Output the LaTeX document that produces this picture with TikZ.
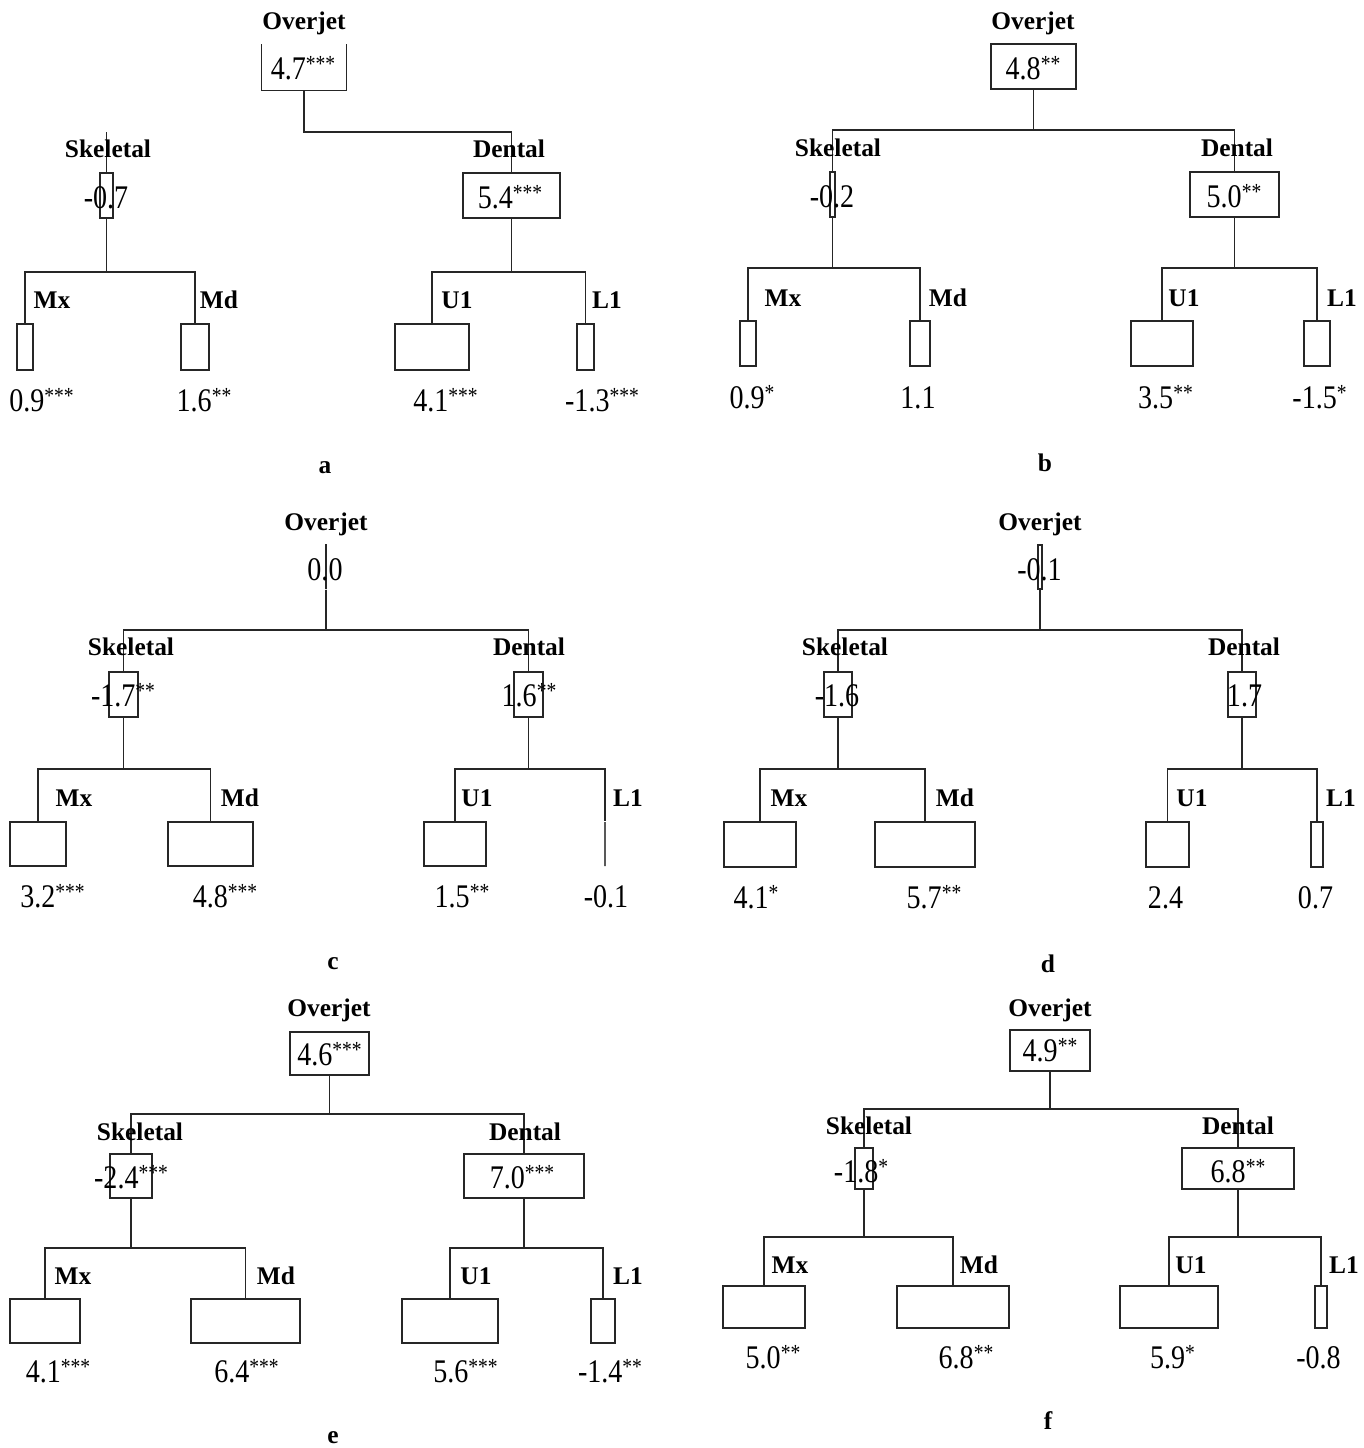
\documentclass[tikz,border=0pt]{standalone}
\usepackage{fontspec}
\setmainfont{Liberation Serif}
\newfontfamily\valfont[FakeStretch=0.85]{Liberation Serif}
\tikzset{
 ln/.style={draw=black!85, line width=0.55pt},
 bxs/.style={draw=black!85, line width=0.55pt, rectangle, inner sep=0pt, minimum width=0pt, minimum height=0pt},
 val/.style={inner sep=0pt, anchor=base, font=\valfont\fontsize{16.5}{19}\selectfont},
 lab/.style={inner sep=0pt, anchor=base, font=\bfseries\fontsize{12.7}{15}\selectfont},
}
\newcommand\sig[1]{\raisebox{3.6pt}{\fontsize{11.5}{12}\selectfont #1}}
\newcommand\bx[6][]{\node[bxs,#1,minimum width={(#5-#3)*0.5pt},minimum height={(#6-#4)*0.5pt}] (#2) at ({(#3+#5)/2},{(#4+#6)/2}) {};}
\newcommand\fork[4]{\coordinate (#1bar) at (0,#4);
 \draw[ln] (#1.south) -- (#1.south |- #1bar);
 \draw[ln] (#2.north) |- (#3.north |- #1bar) -- (#3.north);}
\begin{document}
\begin{tikzpicture}[x=0.5pt,y=-0.5pt]
\fill[white] (0,0) rectangle (1364,1448);
\useasboundingbox (0,0) rectangle (1364,1448);
% ---------------- panel a
\bx[draw=none]{aO}{262}{45}{346}{90}
\draw[ln] (aO.north west) -- (aO.south west) -- (aO.south east) -- (aO.north east);
\bx{aS}{100}{173}{113}{218}
\bx{aD}{463}{173}{560}{218}
\bx{aMx}{17}{324}{33}{370}
\bx{aMd}{181}{324}{209}{370}
\bx{aU}{395}{324}{469}{370}
\bx{aL}{577}{324}{594}{370}
\coordinate (abar) at (0,132);
\draw[ln] (aO.south) |- (aD.north |- abar) -- (aD.north);
\draw[ln] (aS.north |- abar) -- (aS.north);
\fork{aS}{aMx}{aMd}{272}
\fork{aD}{aU}{aL}{272}
\node[lab] (aOl) at (304,29) {Overjet};
\node[lab] (aSl) at (108,157) {Skeletal};
\node[lab] (aDl) at (509,157) {Dental};
\node[lab] (aMxl) at (52,308) {Mx};
\node[lab] (aMdl) at (219,308) {Md};
\node[lab] (aUl) at (457,308) {U1};
\node[lab] (aLl) at (607,308) {L1};
\node[val] (aOt) at (303,79) {4.7\sig{***}};
\node[val] (aSt) at (106,208) {-0.7};
\node[val] (aDt) at (510,208) {5.4\sig{***}};
\node[val] (aMxt) at (41.5,411) {0.9\sig{***}};
\node[val] (aMdt) at (204,411) {1.6\sig{**}};
\node[val] (aUt) at (445.5,411) {4.1\sig{***}};
\node[val] (aLt) at (602,411) {-1.3\sig{***}};
\node[lab] (acap) at (325,473) {a};
% ---------------- panel b
\bx{bO}{991}{44}{1076}{89}
\bx{bS}{830}{172}{835}{217}
\bx{bD}{1190}{172}{1279}{217}
\bx{bMx}{740}{321}{756}{366}
\bx{bMd}{910}{321}{930}{366}
\bx{bU}{1131}{321}{1193}{366}
\bx{bL}{1304}{321}{1330}{366}
\fork{bO}{bS}{bD}{130}
\fork{bS}{bMx}{bMd}{268}
\fork{bD}{bU}{bL}{268}
\node[lab] (bOl) at (1033,29) {Overjet};
\node[lab] (bSl) at (838,156) {Skeletal};
\node[lab] (bDl) at (1237,156) {Dental};
\node[lab] (bMxl) at (783,306) {Mx};
\node[lab] (bMdl) at (948,306) {Md};
\node[lab] (bUl) at (1184,306) {U1};
\node[lab] (bLl) at (1342,306) {L1};
\node[val] (bOt) at (1033,79) {4.8\sig{**}};
\node[val] (bSt) at (832,207) {-0.2};
\node[val] (bDt) at (1234,207) {5.0\sig{**}};
\node[val] (bMxt) at (752,408) {0.9\sig{*}};
\node[val] (bMdt) at (918,408) {1.1};
\node[val] (bUt) at (1165.5,408) {3.5\sig{**}};
\node[val] (bLt) at (1319.5,408) {-1.5\sig{*}};
\node[lab] (bcap) at (1045,471) {b};
% ---------------- panel c
\bx{cO}{326}{544}{326}{589}
\bx{cS}{109}{672}{138}{717}
\bx{cD}{514}{672}{543}{717}
\bx{cMx}{10}{822}{66}{866}
\bx{cMd}{168}{822}{253}{866}
\bx{cU}{424}{822}{486}{866}
\bx[line width=1.2pt,draw=black!65]{cL}{605}{822}{605}{866}
\fork{cO}{cS}{cD}{630}
\fork{cS}{cMx}{cMd}{769}
\fork{cD}{cU}{cL}{769}
\node[lab] (cOl) at (326,530) {Overjet};
\node[lab] (cSl) at (131,655) {Skeletal};
\node[lab] (cDl) at (529,655) {Dental};
\node[lab] (cMxl) at (74,806) {Mx};
\node[lab] (cMdl) at (240,806) {Md};
\node[lab] (cUl) at (477,806) {U1};
\node[lab] (cLl) at (628,806) {L1};
\node[val] (cOt) at (325,580) {0.0};
\node[val] (cSt) at (123,706) {-1.7\sig{**}};
\node[val] (cDt) at (529,706) {1.6\sig{**}};
\node[val] (cMxt) at (52.5,907) {3.2\sig{***}};
\node[val] (cMdt) at (225,907) {4.8\sig{***}};
\node[val] (cUt) at (462,907) {1.5\sig{**}};
\node[val] (cLt) at (606,907) {-0.1};
\node[lab] (ccap) at (333,969) {c};
% ---------------- panel d
\bx{dO}{1038}{545}{1042}{589}
\bx{dS}{824}{672}{852}{717}
\bx{dD}{1228}{672}{1256}{717}
\bx{dMx}{724}{822}{796}{867}
\bx{dMd}{875}{822}{975}{867}
\bx{dU}{1146}{822}{1189}{867}
\bx{dL}{1311}{822}{1323}{867}
\fork{dO}{dS}{dD}{630}
\fork{dS}{dMx}{dMd}{769}
\fork{dD}{dU}{dL}{769}
\node[lab] (dOl) at (1040,530) {Overjet};
\node[lab] (dSl) at (845,655) {Skeletal};
\node[lab] (dDl) at (1244,655) {Dental};
\node[lab] (dMxl) at (789,806) {Mx};
\node[lab] (dMdl) at (955,806) {Md};
\node[lab] (dUl) at (1192,806) {U1};
\node[lab] (dLl) at (1341,806) {L1};
\node[val] (dOt) at (1039.5,580) {-0.1};
\node[val] (dSt) at (837,706) {-1.6};
\node[val] (dDt) at (1244.5,706) {1.7};
\node[val] (dMxt) at (756,908) {4.1\sig{*}};
\node[val] (dMdt) at (934,908) {5.7\sig{**}};
\node[val] (dUt) at (1165.5,908) {2.4};
\node[val] (dLt) at (1315.5,908) {0.7};
\node[lab] (dcap) at (1048,972) {d};
% ---------------- panel e
\bx{eO}{290}{1032}{369}{1075}
\bx{eS}{110}{1154}{152}{1198}
\bx{eD}{464}{1154}{584}{1198}
\bx{eMx}{10}{1299}{80}{1343}
\bx{eMd}{191}{1299}{300}{1343}
\bx{eU}{402}{1299}{498}{1343}
\bx{eL}{591}{1299}{615}{1343}
\fork{eO}{eS}{eD}{1114}
\fork{eS}{eMx}{eMd}{1248}
\fork{eD}{eU}{eL}{1248}
\node[lab] (eOl) at (329,1016) {Overjet};
\node[lab] (eSl) at (140,1140) {Skeletal};
\node[lab] (eDl) at (525,1140) {Dental};
\node[lab] (eMxl) at (73,1284) {Mx};
\node[lab] (eMdl) at (276,1284) {Md};
\node[lab] (eUl) at (476,1284) {U1};
\node[lab] (eLl) at (628,1284) {L1};
\node[val] (eOt) at (329.5,1065) {4.6\sig{***}};
\node[val] (eSt) at (131,1188) {-2.4\sig{***}};
\node[val] (eDt) at (522,1188) {7.0\sig{***}};
\node[val] (eMxt) at (58,1382) {4.1\sig{***}};
\node[val] (eMdt) at (246.5,1382) {6.4\sig{***}};
\node[val] (eUt) at (465.5,1382) {5.6\sig{***}};
\node[val] (eLt) at (610,1382) {-1.4\sig{**}};
\node[lab] (ecap) at (333,1443) {e};
% ---------------- panel f
\bx{fO}{1010}{1030}{1090}{1071}
\bx{fS}{855}{1148}{873}{1189}
\bx{fD}{1182}{1148}{1294}{1189}
\bx{fMx}{723}{1286}{805}{1328}
\bx{fMd}{897}{1286}{1009}{1328}
\bx{fU}{1120}{1286}{1218}{1328}
\bx{fL}{1315}{1286}{1327}{1328}
\fork{fO}{fS}{fD}{1109}
\fork{fS}{fMx}{fMd}{1237}
\fork{fD}{fU}{fL}{1237}
\node[lab] (fOl) at (1050,1016) {Overjet};
\node[lab] (fSl) at (869,1134) {Skeletal};
\node[lab] (fDl) at (1238,1134) {Dental};
\node[lab] (fMxl) at (790,1273) {Mx};
\node[lab] (fMdl) at (979,1273) {Md};
\node[lab] (fUl) at (1191,1273) {U1};
\node[lab] (fLl) at (1344,1273) {L1};
\node[val] (fOt) at (1050,1061) {4.9\sig{**}};
\node[val] (fSt) at (861,1182) {-1.8\sig{*}};
\node[val] (fDt) at (1238,1182) {6.8\sig{**}};
\node[val] (fMxt) at (773,1368) {5.0\sig{**}};
\node[val] (fMdt) at (966,1368) {6.8\sig{**}};
\node[val] (fUt) at (1172.5,1368) {5.9\sig{*}};
\node[val] (fLt) at (1318.5,1368) {-0.8};
\node[lab] (fcap) at (1048,1429) {f};
\end{tikzpicture}
\end{document}
